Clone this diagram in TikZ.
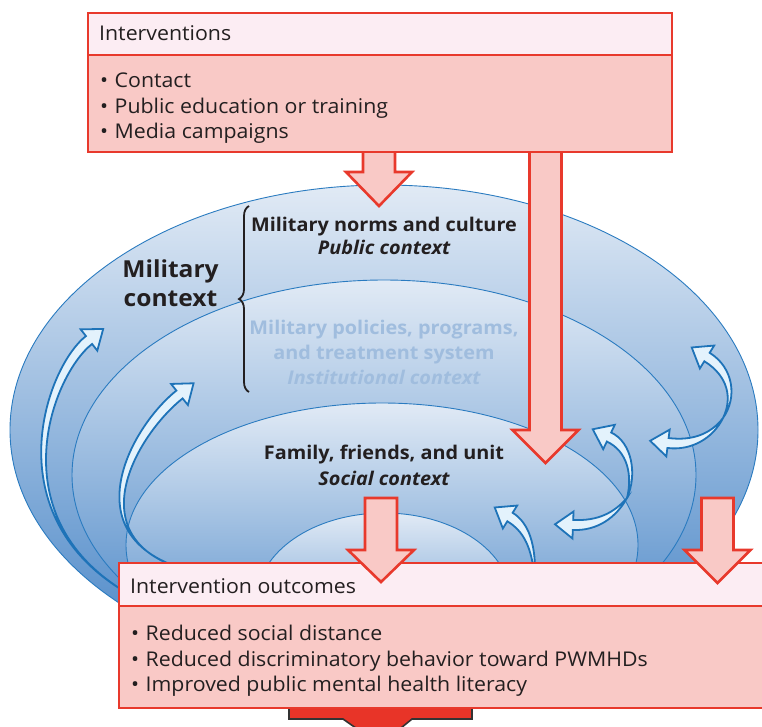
\documentclass[tikz,border=0pt]{standalone}
\usepackage{fontspec}
\setmainfont{Open Sans}[FakeStretch=1.05]
\usetikzlibrary{calc,decorations.pathreplacing}
\definecolor{redline}{RGB}{232,57,44}
\definecolor{pinkfill}{RGB}{249,201,198}
\definecolor{hdrfill}{RGB}{252,237,243}
\definecolor{darkred}{RGB}{232,52,40}
\definecolor{ellline}{RGB}{42,123,192}
\definecolor{elltop}{RGB}{225,234,245}
\definecolor{ellbot}{RGB}{70,132,198}
\definecolor{arrline}{RGB}{30,115,184}
\definecolor{arrfill}{RGB}{227,242,252}
\definecolor{paletxt}{RGB}{160,189,222}
\definecolor{txtcol}{RGB}{35,31,32}
\newcommand\bluearr[4]{%
  \draw[barrow] (#1) .. controls ($(#2)!2.5pt!-90:(#3)$) and ($(#3)!5pt!-90:(#4)$) .. ($(#4)!5pt!90:(#3)$)
    -- ($(#4)!13.5pt!90:(#3)$) -- ($(#4)!-18pt!(#3)$) -- ($(#4)!13.5pt!-90:(#3)$)
    -- ($(#4)!5pt!-90:(#3)$) .. controls ($(#3)!5pt!90:(#4)$) and ($(#2)!2.5pt!90:(#3)$) .. cycle;}
\newcommand\redarr[4]{%
  \draw[redarr] ({#1-16},#2) -- ({#1-16},#3) -- ({#1-33},#3) -- (#1,#4) -- ({#1+33},#3) -- ({#1+16},#3) -- ({#1+16},#2) -- cycle;}
\begin{document}
\begin{tikzpicture}[x=1pt,y=-1pt,
  redbox/.style={draw=redline, line width=2.6pt, fill=pinkfill},
  hdrbox/.style={draw=redline, line width=2.6pt, fill=hdrfill},
  redarr/.style={draw=redline, line width=2.6pt, fill=pinkfill, line join=miter},
  ell/.style={draw=ellline, line width=0.9pt, top color=elltop, bottom color=ellbot},
  barrow/.style={draw=arrline, line width=1.8pt, fill=arrfill, line join=miter},
  txt/.style={inner sep=0pt, text=txtcol, font=\fontsize{20.3}{26}\selectfont},
  ctr/.style={inner sep=0pt, anchor=base, text=txtcol, font=\fontsize{18.9}{26}\selectfont\bfseries},
  pale/.style={ctr, text=paletxt},
]
\useasboundingbox (0,0) rectangle (762,726);
\clip (0,0) rectangle (762,726);
% nested context ellipses
\path[ell] (384,430) ellipse [x radius=374pt, y radius=245pt];
\path[ell] (384,475) ellipse [x radius=312pt, y radius=195pt];
\path[ell] (382,545) ellipse [x radius=256pt, y radius=142pt];
\path[ell] (384,600) ellipse [x radius=127pt, y radius=87pt];
% dark arrow below outcomes
\draw[draw=black!80, line width=1.6pt, fill=darkred] (289,700) -- (289,719) -- (343,719) -- (380,745) -- (412,719) -- (472,719) -- (472,700) -- cycle;
% intervention arrows
\redarr{379}{140}{172}{206}
\redarr{545.5}{140}{430}{463}
% blue influence arrows
\bluearr{140,600}{-8,525}{48,372}{89,340}
\bluearr{210,575}{66,552}{130,434}{179.5,394.5}
\bluearr{535,580}{534,545}{526,527}{510,517}
\bluearr{723,418}{735,398}{731,372}{707,357}
\bluearr{723,418}{712,436}{692,446}{668,443}
\bluearr{627,498}{635,475}{630,447}{609,437}
\bluearr{627,498}{615,515}{598,526}{573,525}
% context labels
\node[ctr] (pub1) at (384,231) {Military norms and culture};
\node[ctr] (pub2) at (384,254) {\itshape Public context};
\node[pale] (ins1) at (384,334) {Military policies, programs,};
\node[pale] (ins2) at (384,359) {and treatment system};
\node[pale] (ins3) at (384,384) {\itshape Institutional context};
\node[ctr] (soc1) at (384,459) {Family, friends, and unit};
\node[ctr] (soc2) at (384,485) {\itshape Social context};
\node[ctr, font=\fontsize{23.4}{29}\selectfont\bfseries] (mil1) at (170.5,277) {Military};
\node[ctr, font=\fontsize{23.4}{29}\selectfont\bfseries] (mil2) at (170.5,306) {context};
\draw[decorate, decoration={brace, amplitude=10pt}, line width=1.8pt, draw=txtcol] (249,392) -- (249,206);
% interventions box
\draw[redbox] (88,55) rectangle (672,152);
\draw[hdrbox] (88,13) rectangle (672,55);
\node[txt, anchor=base west] (ih) at (99,40) {Interventions};
\node[txt, anchor=base west] (ia) at (100,87) {\textbullet\hspace{6.5pt}Contact};
\node[txt, anchor=base west] (ib) at (100,113) {\textbullet\hspace{6.5pt}Public education or training};
\node[txt, anchor=base west] (ic) at (100,138) {\textbullet\hspace{6.5pt}Media campaigns};
% outcomes box
\draw[redbox] (119,606) rectangle (790,708);
\draw[hdrbox] (119,563) rectangle (790,606);
\node[txt, anchor=base west] (oh) at (130,593) {Intervention outcomes};
\node[txt, anchor=base west] (oa) at (131,640) {\textbullet\hspace{6.5pt}Reduced social distance};
\node[txt, anchor=base west] (ob) at (131,666) {\textbullet\hspace{6.5pt}Reduced discriminatory behavior toward PWMHDs};
\node[txt, anchor=base west] (oc) at (131,691) {\textbullet\hspace{6.5pt}Improved public mental health literacy};
% arrows into outcomes
\redarr{381}{498}{550}{582}
\redarr{717.5}{498}{550}{583}
\end{tikzpicture}
\end{document}
